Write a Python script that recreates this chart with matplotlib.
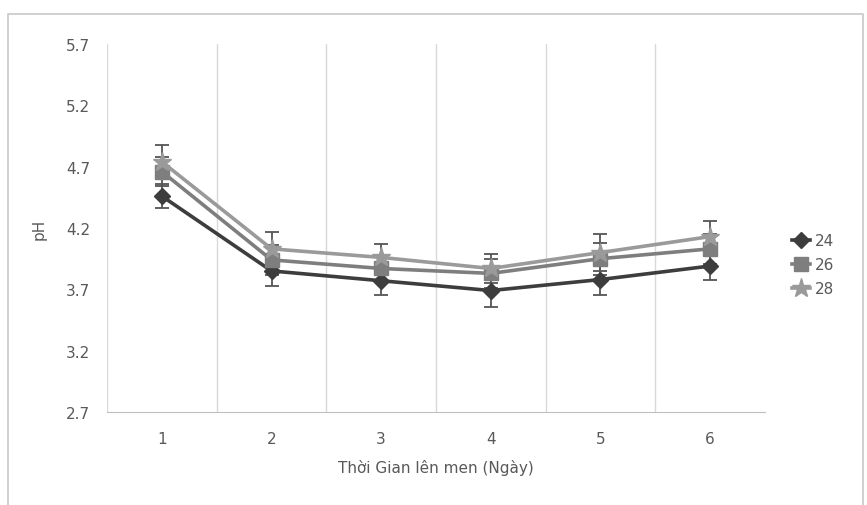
import matplotlib
matplotlib.use("Agg")
import matplotlib.pyplot as plt
from matplotlib.lines import Line2D

days = [1, 2, 3, 4, 5, 6]
day_labels = ["1", "2", "3", "4", "5", "6"]

ph_24 = [4.46, 3.85, 3.77, 3.69, 3.78, 3.89]
ph_26 = [4.66, 3.94, 3.87, 3.83, 3.95, 4.03]
ph_28 = [4.74, 4.03, 3.96, 3.87, 4.00, 4.13]

err_24 = [0.10, 0.12, 0.12, 0.13, 0.13, 0.11]
err_26 = [0.12, 0.12, 0.11, 0.12, 0.13, 0.12]
err_28 = [0.14, 0.14, 0.11, 0.12, 0.15, 0.13]

series_names = ["24", "26", "28"]
yticks = [2.7, 3.2, 3.7, 4.2, 4.7, 5.2, 5.7]

TEXT = "#595959"

fig = plt.figure(figsize=(8.67, 5.06), dpi=100)
ax = fig.add_axes([107 / 867, 1 - 413 / 506, (765 - 107) / 867, (413 - 45) / 506])

styles = [
    (ph_24, err_24, "#3d3d3d", "D", 8),
    (ph_26, err_26, "#7e7e7e", "s", 10),
    (ph_28, err_28, "#9a9a9a", "*", 14),
]
handles = []
for (vals, errs, col, mk, ms), name in zip(styles, series_names):
    ax.errorbar(days, vals, yerr=errs, color=col, lw=2.6, marker=mk, ms=ms,
                mec=col, mfc=col, ecolor="#555555", elinewidth=1.3,
                capsize=5, capthick=1.3, zorder=3)
    handles.append(Line2D([], [], color=col, lw=2.6, marker=mk, ms=ms,
                          mec=col, mfc=col, label=name))

ax.set_xlim(0.5, 6.5)
ax.set_ylim(2.7, 5.7)
ax.set_xticks(days)
ax.set_xticklabels(day_labels)
ax.set_yticks(yticks)
ax.set_yticklabels([f"{v:.1f}" for v in yticks])

# vertical category gridlines between days
for b in [0.5, 1.5, 2.5, 3.5, 4.5, 5.5]:
    ax.axvline(b, color="#d9d9d9", lw=1, zorder=1)

for s in ["top", "right", "left"]:
    ax.spines[s].set_visible(False)
ax.spines["bottom"].set_color("#bfbfbf")
ax.tick_params(axis="both", length=0, colors=TEXT, labelsize=11)
ax.tick_params(axis="x", pad=14)
ax.tick_params(axis="y", pad=12)

ax.set_ylabel("pH", color=TEXT, fontsize=11, labelpad=14)
ax.set_xlabel("Thời Gian lên men (Ngày)", color=TEXT, fontsize=11, labelpad=9)

ax.legend(handles=handles, loc="center left", bbox_to_anchor=(1.02, 0.40),
          frameon=False, fontsize=11, labelcolor=TEXT, handlelength=1.2,
          handletextpad=0.3, labelspacing=0.6)

# outer chart border
fig.add_artist(Line2D([8 / 867, 8 / 867, 863 / 867, 863 / 867],
                      [0, 1 - 15 / 506, 1 - 15 / 506, 0],
                      color="#c8c8c8", lw=1.2, transform=fig.transFigure))

fig.savefig("out.png", dpi=100)
